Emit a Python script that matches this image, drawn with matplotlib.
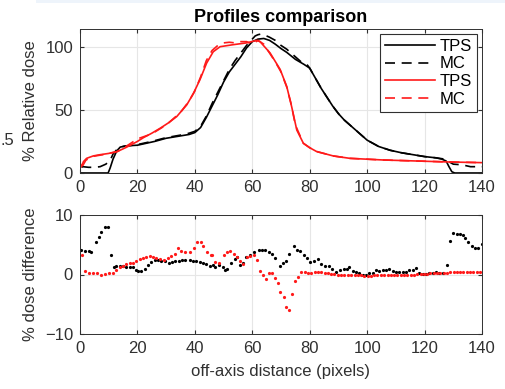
import matplotlib
matplotlib.use("Agg")
import matplotlib.pyplot as plt
from matplotlib.patches import Rectangle

plt.rcParams['font.family'] = ['Liberation Sans', 'DejaVu Sans']

# ---- profiles (top) ----
tps_blk_x = [0, 9.8, 10.5, 11.5, 12.8, 14, 16, 20, 22, 26, 30, 34, 38, 40, 42, 44, 46, 48, 50, 52,
             54, 56, 58, 60, 62, 64, 66, 68, 70, 72, 75, 78, 80, 82, 84, 86, 88, 90, 92, 94,
             97, 100, 104, 108, 112, 116, 120, 124, 126, 127.5, 128.5, 129.5, 130.5, 140]
tps_blk_y = [0, 0, 4, 11, 17.5, 20.5, 21.5, 22, 23, 25, 27.5, 29, 30.5, 32, 36, 44, 53, 62, 72, 80,
             86, 92, 99, 104, 106, 106.5, 105, 102, 98.5, 95.5, 90, 86, 83, 75, 67, 60, 53, 47, 42, 38,
             32, 26, 21, 18, 16, 14.5, 13, 12, 11, 9.5, 5, 1, 0, 0]

mc_blk_x = [0.5, 1, 3, 5, 7, 9, 10.5, 11.5, 13, 15, 20, 25, 30, 35, 38, 40, 42, 44, 46, 48,
            50, 52, 54, 56, 58, 60, 61, 62, 63, 64, 66, 68, 70, 72, 75, 77, 79, 80, 82, 84,
            86, 88, 90, 92, 94, 97, 100, 104, 108, 112, 116, 120, 124, 127, 128, 130, 133, 136, 140]
mc_blk_y = [4.5, 5, 4.5, 4.5, 5, 7, 10, 15, 19, 21, 22.5, 25, 28, 30, 31.5, 33, 37, 45, 55, 64,
            73, 82, 89, 95, 101, 106, 108.5, 109.5, 110, 109.5, 107.5, 105, 101, 98, 92, 88, 86, 83, 75, 67,
            60, 53, 47, 42, 38, 32, 26, 21, 18, 16, 14.5, 13, 12, 11, 9.5, 7, 6.5, 5, 5]

tps_red_x = [0.5, 1.2, 2.3, 4.6, 7, 10, 13, 16.3, 20, 22.1, 25, 27.9, 31, 33.7, 37.2, 39.5, 41.8, 44.1, 46.4, 48.8,
             53.4, 58, 61.5, 62.7, 66.2, 69.7, 72, 73.7, 75.5, 77.8, 80, 82.4, 88.2, 94, 105.6, 117.2, 128.8, 140]
tps_red_y = [5, 9, 11.6, 13.5, 14.5, 15.5, 17, 20.5, 25, 28, 31.5, 35.4, 40, 44.7, 54, 63, 74, 87, 96, 100,
             101.6, 103, 105, 104, 95, 82, 68.5, 52.6, 34, 23.5, 20, 17, 13.5, 11.6, 10.3, 9.5, 8.7, 8.2]

mc_red_x = [0.5, 1, 2, 4, 8, 13, 16, 20, 25, 30, 35, 38, 40, 42, 44, 46, 48, 50, 52, 54,
            56, 58, 60, 62, 64, 66, 68, 70, 72, 73.5, 75, 77.8, 80, 82.4, 88.2, 94, 105.6, 117.2, 128.8, 140]
mc_red_y = [7, 6, 10, 13, 14.5, 17, 21, 27, 31, 38, 48, 57, 65, 76, 89, 97, 101, 103, 103.5, 103,
            104, 104, 102, 105, 102, 95, 88, 80, 68, 55, 38, 23.5, 20, 17, 13.5, 11.6, 10.3, 9.5, 8.7, 8.2]

# ---- dose difference (bottom) ----
diff_blk_x = [0.5, 1.9, 3.1, 4.0, 5.7, 6.6, 7.4, 8.6, 9.8, 10.7, 11.8, 12.7, 13.8, 15.0, 16.1, 17.3, 18.5, 19.6,
              20.2, 21.4, 22.5, 23.7, 24.8, 26.0, 27.2, 28.3, 29.5, 30.9, 32.0, 33.2, 34.4, 35.5, 36.7, 38.2,
              39.4, 40.5, 41.7, 42.9, 44.0, 45.2, 46.3, 47.1, 48.5, 49.7, 50.6, 51.2, 52.7, 53.9, 54.7, 55.7,
              56.8, 57.9, 59.3, 60.7, 62.2, 63.4, 64.5, 65.7, 66.8, 68.0, 69.5, 70.7, 71.7, 72.9, 74.4, 75.6,
              76.7, 77.9, 79.1, 80.2, 81.4, 82.9, 84.0, 85.4, 86.6, 87.8, 89.2, 90.7, 91.8, 93.0, 93.8, 95.0,
              96.2, 97.3, 98.5, 99.6, 100.8, 102.0, 103.1, 104.3, 105.4, 106.6, 107.7, 108.9, 110.1, 111.2,
              112.4, 113.5, 114.7, 115.8, 117.0, 118.2, 119.3, 120.5, 121.7, 122.8, 124.0, 125.1, 126.5,
              127.8, 129.0, 130.0, 131.2, 132.3, 133.3, 134.1, 135.2, 136.4, 137.5, 138.7, 139.9]
diff_blk_y = [4.1, 4.0, 4.0, 3.8, 5.5, 6.3, 7.2, 7.9, 8.0, 3.3, 1.3, 1.4, 1.5, 1.4, 1.3, 1.3, 1.2, 0.8,
              0.6, 0.6, 1.0, 1.6, 2.1, 2.4, 2.4, 2.3, 2.3, 2.0, 2.1, 2.2, 2.3, 2.4, 2.5, 2.4,
              2.3, 2.2, 2.1, 1.9, 1.7, 1.5, 1.6, 1.2, 1.6, 1.3, 0.8, 0.9, 2.0, 2.6, 3.0, 1.6,
              2.0, 2.9, 3.2, 3.8, 4.2, 4.2, 4.1, 3.8, 3.4, 2.8, 1.5, 1.9, 2.3, 3.5, 4.75, 4.2,
              3.9, 3.3, 2.8, 2.1, 2.3, 2.6, 1.7, 1.4, 1.5, 0.9, 0.5, 0.8, 1.0, 1.0, 1.2, 0.6,
              0.4, 0.2, 0.0, 0.0, 0.2, 0.3, 0.7, 0.6, 0.7, 0.8, 0.9, 0.6, 0.5, 0.5,
              0.5, 0.5, 0.7, 0.8, 1.1, 0.3, 0.1, 0.1, 0.2, 0.3, 0.4, 0.3, 0.3,
              1.6, 5.6, 7.0, 6.8, 6.8, 6.7, 6.2, 5.4, 4.75, 4.5, 4.5, 5.1]

diff_red_x = [0.7, 1.6, 3.0, 4.4, 5.8, 7.2, 8.6, 10.0, 11.4, 12.7, 13.8, 15.0, 16.1, 17.3, 18.5, 19.6, 20.8,
              21.9, 23.1, 24.3, 25.4, 26.6, 27.7, 29.3, 30.6, 31.8, 33.0, 34.1, 35.3, 36.7, 38.2, 39.7, 40.9,
              42.0, 42.8, 44.4, 45.7, 46.0, 47.1, 48.5, 50.0, 51.2, 52.4, 53.5, 54.7, 55.7, 56.9, 58.2, 59.3,
              60.5, 61.7, 62.8, 63.7, 64.8, 65.9, 66.9, 67.8, 68.9, 69.8, 70.9, 71.9, 72.9, 73.8, 74.8, 75.9,
              77.1, 78.2, 79.4, 80.5, 81.7, 82.8, 84.0, 85.2, 86.3, 87.5, 88.6, 89.8, 91.0, 92.1, 93.3, 94.4,
              95.6, 96.7, 97.9, 99.0, 100.2, 101.3, 102.5, 103.6, 104.8, 105.9, 107.1, 108.2, 109.4, 110.5,
              111.7, 112.8, 114.0, 115.1, 116.3, 117.4, 118.6, 119.7, 120.9, 122.0, 123.2, 124.3, 125.5,
              126.6, 127.8, 128.9, 130.1, 131.2, 132.4, 133.5, 134.7, 135.8, 137.0, 138.1, 139.3]
diff_red_y = [3.2, 0.6, 0.3, 0.2, 0.2, 0.0, 0.1, 0.2, 0.3, 0.7, 1.2, 1.5, 1.8, 1.9, 2.0, 2.3, 2.6,
              2.8, 3.0, 3.1, 3.0, 2.8, 2.6, 2.5, 2.7, 3.1, 3.5, 4.5, 4.0, 3.7, 3.7, 4.4, 5.5,
              5.5, 4.8, 3.8, 3.3, 3.2, 2.1, 2.0, 3.3, 3.8, 3.9, 3.5, 3.0, 2.2, 1.7, 3.0, 3.1,
              3.3, 2.5, 0.6, -0.1, -0.8, 0.2, 0.2, -0.6, -1.4, -2.9, -3.7, -5.4, -6.0, -3.2, -1.1, -0.4,
              0.4, 0.35, 0.3, 0.3, 0.35, 0.35, 0.5, 0.3, 0.2, 0.1, 0.1, 0.0, 0.0, 0.0, 0.0, 0.0,
              0.0, -0.1, -0.1, -0.2, -0.2, -0.2, -0.1, -0.1, 0.0, 0.0, 0.0, -0.1, -0.1, -0.1,
              0.0, 0.0, 0.0, 0.0, 0.0, 0.1, 0.1, 0.1, 0.1, 0.2, 0.3, 0.2, 0.2,
              0.2, 0.3, 0.5, 0.5, 0.5, 0.5, 0.5, 0.5, 0.5, 0.5, 0.5, 0.5]

RED = '#ff1a1a'
AXC = '#303030'
FS = 12

fig = plt.figure(figsize=(5.06, 3.89), dpi=100)
fig.add_artist(Rectangle((36 / 506, 1 - 3 / 389), 1, 3 / 389, transform=fig.transFigure,
                         color='#eef4fb', lw=0))
fig.text(0.0, 1 - 141 / 389, ".5", fontsize=FS, color=AXC, va='center', ha='left')

ax1 = fig.add_axes([80 / 506, 1 - 173 / 389, 402 / 506, 144 / 389])
ax2 = fig.add_axes([80 / 506, 1 - 334 / 389, 402 / 506, 119 / 389])

dash = (0, (6, 4))
ax1.plot(tps_blk_x, tps_blk_y, color='k', lw=1.2, label='TPS')
ax1.plot(mc_blk_x, mc_blk_y, color='k', lw=1.2, ls=dash, label='MC')
ax1.plot(tps_red_x, tps_red_y, color=RED, lw=1.2, label='TPS')
ax1.plot(mc_red_x, mc_red_y, color=RED, lw=1.2, ls=dash, label='MC')
ax1.set_xlim(0, 140)
ax1.set_ylim(0, 114)
ax1.set_yticks([0, 50, 100])
ax1.set_ylabel('% Relative dose', fontsize=FS, color=AXC)
ax1.set_title('Profiles comparison', fontsize=13, fontweight='bold', color='k', pad=5)
leg = ax1.legend(loc='upper right', fontsize=FS, handlelength=3.0, borderaxespad=0.3,
                 fancybox=False, framealpha=1, edgecolor=AXC, labelspacing=0.15,
                 handletextpad=0.3, borderpad=0.3)
leg.get_frame().set_linewidth(0.8)

ax2.plot(diff_blk_x, diff_blk_y, 'o', color='k', ms=2.3, mew=0)
ax2.plot(diff_red_x, diff_red_y, 'o', color=RED, ms=2.3, mew=0)
ax2.set_xlim(0, 140)
ax2.set_ylim(-10, 10)
ax2.set_yticks([-10, 0, 10])
ax2.set_ylabel('% dose difference', fontsize=FS, color=AXC)
ax2.set_xlabel('off-axis distance (pixels)', fontsize=FS, color=AXC, labelpad=6)

for ax in (ax1, ax2):
    ax.set_xticks(range(0, 141, 20))
    ax.grid(True, color='#e6e6e6', lw=0.8)
    ax.set_axisbelow(True)
    ax.tick_params(direction='in', length=3, labelsize=FS, colors=AXC, pad=5, top=True, right=True)
    for s in ax.spines.values():
        s.set_color(AXC)
        s.set_linewidth(0.7)
    ax.yaxis.set_label_coords(-0.105, 0.5)

fig.savefig('out.png', dpi=100)
